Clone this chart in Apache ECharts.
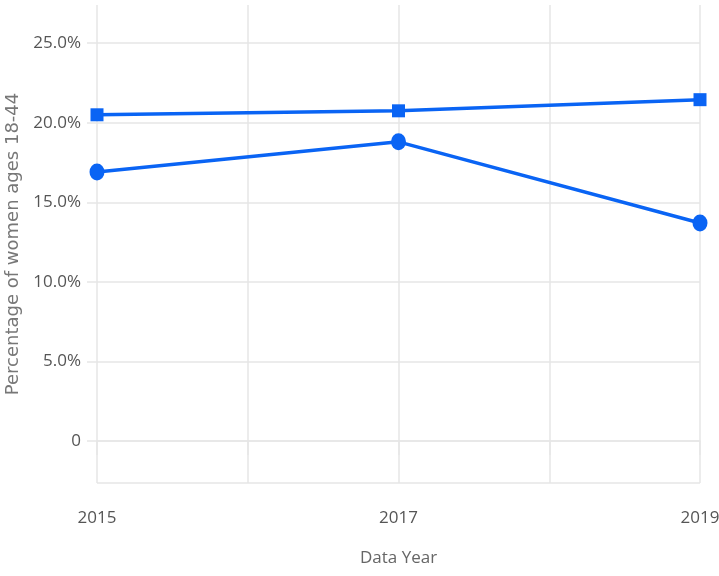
<!DOCTYPE html>
<html>
<head>
<meta charset="utf-8">
<script src="https://cdn.jsdelivr.net/npm/echarts@6/dist/echarts.min.js"></script>
<style>
html, body { margin: 0; padding: 0; background: #fff; }
#main { width: 719px; height: 576px; }
</style>
</head>
<body>
<div id="main"></div>
<script>
// data
var years = [2015, 2017, 2019];
var squareSeries = [20.5, 20.75, 21.45];
var circleSeries = [16.9, 18.8, 13.7];

var lineColor = '#0a64f4';
var gridColor = '#e6e6e6';
var labelFont = '"Open Sans", sans-serif';

var myChart = echarts.init(document.getElementById('main'));

function pairs(vals) {
	return years.map(function(y, i) { return [y, vals[i]]; });
}

// 8 split lines on y: bottom, 0..25, top (top one hidden)
var ySplitColors = [gridColor, gridColor, gridColor, gridColor, gridColor, gridColor, gridColor, 'rgba(0,0,0,0)'];

var option = {
	backgroundColor: '#fff',
	animation: false,
	grid: {
		left: 97,
		right: 19,
		top: 5,
		bottom: 93,
		containLabel: false,
		outerBoundsMode: 'none'
	},
	xAxis: {
		type: 'value',
		min: 2015,
		max: 2019,
		interval: 1,
		name: 'Data Year',
		nameLocation: 'middle',
		nameGap: 67,
		nameTextStyle: { color: '#666', fontSize: 17, fontFamily: labelFont },
		axisLine: { show: true, lineStyle: { color: gridColor, width: 1.5 } },
		axisTick: { show: true, length: 14, lineStyle: { color: gridColor, width: 1.5 } },
		splitLine: { show: true, lineStyle: { color: gridColor, width: 1.5 } },
		axisLabel: {
			color: '#555',
			fontSize: 17,
			fontFamily: labelFont,
			margin: 27,
			formatter: function(v) { return v % 2 === 1 ? String(v) : ''; }
		}
	},
	yAxis: {
		type: 'value',
		min: -2.64,
		max: 27.4,
		splitNumber: 6,
		name: 'Percentage of women ages 18-44',
		nameLocation: 'middle',
		nameGap: 72,
		nameTextStyle: { color: '#777', fontSize: 18, fontFamily: '"DejaVu Sans", sans-serif' },
		axisLine: { show: false },
		axisTick: { show: true, length: 10, lineStyle: { color: gridColor, width: 1.5 } },
		splitLine: { show: true, lineStyle: { color: ySplitColors, width: 1.5 } },
		axisLabel: {
			color: '#555',
			fontSize: 17,
			fontFamily: labelFont,
			margin: 16,
			showMinLabel: false,
			showMaxLabel: false,
			formatter: function(v) {
				if (Math.abs(v - Math.round(v / 5) * 5) > 0.01) return '';
				return v === 0 ? '0' : v.toFixed(1) + '%';
			}
		}
	},
	series: [{
		name: 'square',
		type: 'line',
		data: pairs(squareSeries),
		symbol: 'rect',
		symbolSize: 13,
		lineStyle: { color: lineColor, width: 3.5 },
		itemStyle: { color: lineColor }
	}, {
		name: 'circle',
		type: 'line',
		data: pairs(circleSeries),
		symbol: 'circle',
		symbolSize: [15, 17],
		lineStyle: { color: lineColor, width: 3.5 },
		itemStyle: { color: lineColor }
	}]
};

myChart.setOption(option);
</script>
</body>
</html>
